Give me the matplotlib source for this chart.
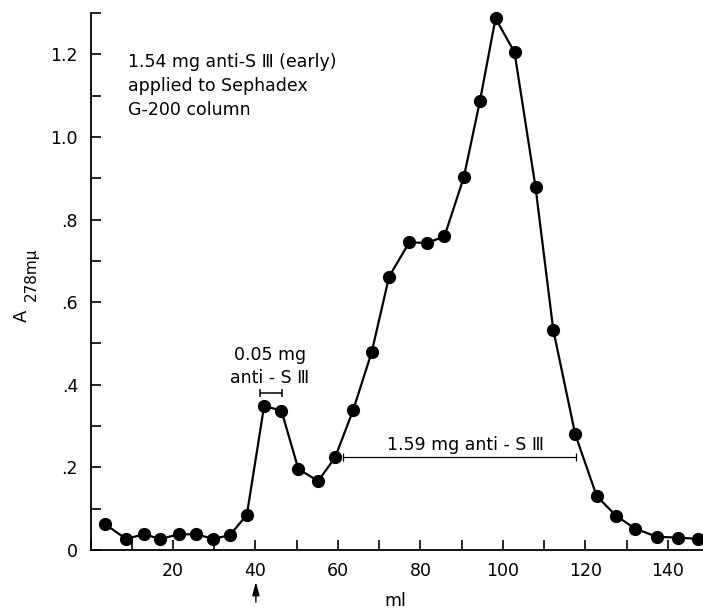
import matplotlib
matplotlib.use("Agg")
import matplotlib.pyplot as plt
from matplotlib.ticker import FixedLocator, MultipleLocator

# Data
ml = [3.6, 8.6, 13.0, 16.9, 21.5, 25.6, 29.8, 33.8, 37.9, 42.1, 46.3, 50.4, 55.2,
      59.3, 63.7, 68.2, 72.4, 77.3, 81.5, 85.8, 90.5, 94.4, 98.2, 102.8, 107.9,
      112.2, 117.5, 122.7, 127.4, 132.0, 137.3, 142.5, 147.2]
absorbance = [0.062, 0.027, 0.038, 0.027, 0.038, 0.038, 0.027, 0.036, 0.085, 0.349,
              0.337, 0.196, 0.167, 0.224, 0.339, 0.480, 0.662, 0.745, 0.743, 0.759,
              0.902, 1.086, 1.287, 1.205, 0.878, 0.533, 0.281, 0.131, 0.083, 0.052,
              0.032, 0.030, 0.027]

y_ticks = [0, 0.2, 0.4, 0.6, 0.8, 1.0, 1.2]
y_tick_labels = ["0", ".2", ".4", ".6", ".8", "1.0", "1.2"]
x_ticks = [20, 40, 60, 80, 100, 120, 140]
x_tick_labels = ["20", "40", "60", "80", "100", "120", "140"]

small_peak_range = [41.1, 46.4]
small_peak_level = 0.380
main_peak_range = [61.3, 117.7]
main_peak_level = 0.224
arrow_ml = 40.1

plt.rcParams['font.family'] = ['DejaVu Sans']
fig = plt.figure(figsize=(7.03, 6.11), dpi=100)
ax = fig.add_axes([90.5 / 703, 1 - 550 / 611, 612.5 / 703, 537 / 611])

ax.plot(ml, absorbance, color='black', lw=1.6, marker='o', markersize=8.5,
        markerfacecolor='black', markeredgecolor='black', clip_on=False, zorder=3)

ax.set_xlim(0, 148.5)
ax.set_ylim(0, 1.3)

for s in ['top', 'right']:
    ax.spines[s].set_visible(False)
for s in ['left', 'bottom']:
    ax.spines[s].set_linewidth(1.3)

ax.yaxis.set_major_locator(FixedLocator(y_ticks))
ax.set_yticklabels(y_tick_labels)
ax.yaxis.set_minor_locator(MultipleLocator(0.1))
ax.xaxis.set_major_locator(FixedLocator(x_ticks))
ax.set_xticklabels(x_tick_labels)
ax.xaxis.set_minor_locator(MultipleLocator(10))

ax.tick_params(which='both', direction='in', length=7, width=1.2, color='black')
ax.tick_params(axis='y', which='major', labelsize=12.5, pad=9)
ax.tick_params(axis='x', which='major', labelsize=12.5, pad=9)

# x-axis label placed just above the lower edge
fig.text(395 / 703, 1 - 606 / 611, "ml", fontsize=12.5, ha='center', va='baseline')

# y-axis label: A with a large subscript
fig.text(21.5 / 703, 1 - 316 / 611, "A", rotation=90, fontsize=13,
         ha='center', va='center')
fig.text(31 / 703, 1 - 274 / 611, "278mμ", rotation=90, fontsize=11,
         ha='center', va='center')

ax.text(9.0, 1.123, "1.54 mg anti-S Ⅲ (early)\napplied to Sephadex\nG-200 column",
        fontsize=12.5, ha='left', va='center', linespacing=1.45)

ax.text(43.5, 0.444, "0.05 mg\nanti - S Ⅲ", fontsize=12.5, ha='center', va='center',
        linespacing=1.3)
ax.errorbar([sum(small_peak_range) / 2], [small_peak_level],
            xerr=[[(small_peak_range[1] - small_peak_range[0]) / 2]],
            fmt='none', ecolor='black', elinewidth=1.1, capsize=3, capthick=1.1)

ax.text(90.8, 0.254, "1.59 mg anti - S Ⅲ", fontsize=12.5, ha='center', va='center')
ax.errorbar([sum(main_peak_range) / 2], [main_peak_level],
            xerr=[[(main_peak_range[1] - main_peak_range[0]) / 2]],
            fmt='none', ecolor='black', elinewidth=0.9, capsize=3, capthick=0.9)

ax.annotate("", xy=(arrow_ml, -0.0775), xytext=(arrow_ml, -0.126),
            xycoords='data', textcoords='data', annotation_clip=False,
            arrowprops=dict(arrowstyle='-|>,head_length=0.8,head_width=0.22',
                            color='black', lw=1.0, shrinkA=0, shrinkB=0))

fig.savefig("out.png", dpi=100)
